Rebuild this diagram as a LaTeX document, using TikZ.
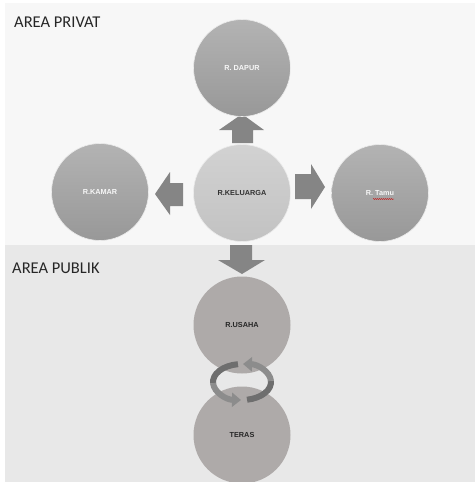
\documentclass[tikz,border=0pt]{standalone}
\usepackage{fontspec}
\setmainfont{Liberation Sans}
\newfontfamily\calib{Carlito}
\usetikzlibrary{arrows.meta,decorations.pathmorphing}
\definecolor{bgtop}{HTML}{F7F7F7}
\definecolor{bgbot}{HTML}{E8E8E8}
\definecolor{outtop}{HTML}{B3B3B3}
\definecolor{outbot}{HTML}{989898}
\definecolor{midtop}{HTML}{D2D2D2}
\definecolor{midbot}{HTML}{C2C2C2}
\definecolor{pubfill}{HTML}{AEAAA9}
\definecolor{blockarrow}{HTML}{858585}
\definecolor{ringdark}{HTML}{6E6E6E}
\definecolor{ringlight}{HTML}{8C8C8C}
\tikzset{
  room/.style={circle, minimum size=97pt, inner sep=0pt, draw=white!85!gray, line width=0.6pt,
    font=\fontsize{7.3}{8}\selectfont\bfseries},
  outerroom/.style={room, top color=outtop, bottom color=outbot, text=white!94!gray},
  midroom/.style={room, top color=midtop, bottom color=midbot, text=black!80},
  pubroom/.style={room, fill=pubfill, draw=none, text=black!85},
  areatext/.style={font=\calib\fontsize{16.5}{18}\selectfont, text=black!85, anchor=west, inner sep=0pt},
  blk/.style={fill=blockarrow, draw=none},
  ringd/.style={draw=ringdark, line width=6pt},
  ringl/.style={draw=ringlight, line width=6pt, -{Triangle[width=14pt,length=9pt]}}
}
\begin{document}
\begin{tikzpicture}[x=1pt,y=-1pt]
\useasboundingbox (0,0) rectangle (475,482);
\fill[white] (0,0) rectangle (475,482);
\fill[bgtop] (5,3) rectangle (475,245);
\fill[bgbot] (5,245) rectangle (475,482);

\node[areatext] (privat) at (14,22) {AREA PRIVAT};
\node[areatext] (publik) at (12,268) {AREA PUBLIK};

% block arrows
\fill[blk] (232,143) -- (232,130) -- (219,130) -- (242,114) -- (264,130) -- (253,130) -- (253,143) -- cycle;
\fill[blk] (183,183) -- (170,183) -- (170,172) -- (155,194) -- (170,215) -- (170,206) -- (183,206) -- cycle;
\fill[blk] (295,174) -- (311,174) -- (311,164) -- (325,187) -- (311,209) -- (311,199) -- (295,199) -- cycle;
\fill[blk] (230,245) -- (252,245) -- (252,260) -- (265,260) -- (242,274) -- (218,260) -- (230,260) -- cycle;

% rooms
\node[outerroom] (dapur) at (242,68) {R. DAPUR};
\node[midroom] (keluarga) at (242,193) {R.KELUARGA};
\node[outerroom] (kamar) at (100,192) {R.KAMAR};
\node[outerroom] (tamu) at (380,193) {R. Tamu};
\node[pubroom] (usaha) at (242,325) {R.USAHA};
\node[pubroom] (teras) at (242,435) {TERAS};

% spell-check underline under "Tamu"
\draw[red!80!black, line width=0.4pt, decorate, decoration={snake, amplitude=0.5pt, segment length=2pt}]
  (373,199) -- (394,199);

% circular arrows between R.USAHA and TERAS
\coordinate (rc) at (242,382);
\draw[ringd] ([shift={(262:29 and 18)}]rc) arc[start angle=262, end angle=175, x radius=29, y radius=18];
\draw[ringl] ([shift={(176:29 and 18)}]rc) arc[start angle=176, end angle=92, x radius=29, y radius=18];
\draw[ringd] ([shift={(80:29 and 18)}]rc) arc[start angle=80, end angle=-5, x radius=29, y radius=18];
\draw[ringl] ([shift={(-4:29 and 18)}]rc) arc[start angle=-4, end angle=-88, x radius=29, y radius=18];
\end{tikzpicture}
\end{document}
